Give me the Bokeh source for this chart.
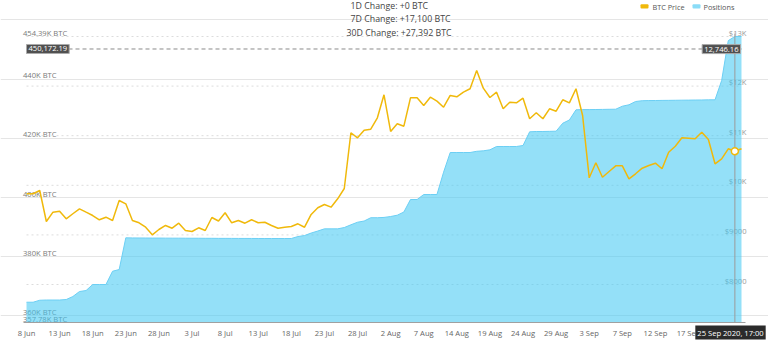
from bokeh.plotting import figure
from bokeh.models import (Range1d, FixedTicker, Label, LabelSet,
                          ColumnDataSource, BoxAnnotation)
from bokeh.core.properties import value
from bokeh.embed import file_html
from bokeh.resources import INLINE

# ---------------- data ----------------
tick_labels = ["8 Jun", "13 Jun", "18 Jun", "23 Jun", "28 Jun", "3 Jul", "8 Jul",
               "13 Jul", "18 Jul", "23 Jul", "28 Jul", "2 Aug", "7 Aug", "14 Aug",
               "19 Aug", "24 Aug", "29 Aug", "3 Sep", "7 Sep", "12 Sep", "17 Sep"]

positions = [
    364630, 364630, 365300, 365370, 365370, 365370, 365540, 366550, 368240, 368580,
    370610, 370610, 370610, 375100, 375670, 386390, 386350, 386330, 386320, 386300,
    386300, 386280, 386270, 386270, 386250, 386240, 386240, 386220, 386220, 386200,
    386200, 386190, 386180, 386180, 386170, 386160, 386160, 386150, 386150, 386150,
    386150, 386820, 387160, 388000, 388680, 389420, 389420, 389420, 389860, 390780,
    391650, 392060, 393170, 393170, 393280, 393580, 394020, 395100, 399320, 399320,
    401010, 401010, 401010, 408550, 415200, 415200, 415200, 415200, 415610, 415780,
    416110, 417230, 417230, 417230, 417230, 417570, 422190, 422300, 422300, 422350,
    422400, 425100, 426180, 429630, 429700, 429700, 429730, 429760, 429800, 429830,
    430840, 431320, 432430, 432700, 432750, 432770, 432800, 432820, 432850, 432880,
    432900, 432930, 432950, 433000, 433000, 439500, 453000, 454390, 454390]

btc_price = [
    9829, 9829, 9895, 9270, 9458, 9478, 9325, 9426, 9526, 9458,
    9391, 9305, 9357, 9291, 9694, 9627, 9291, 9244, 9155, 9002,
    9109, 9190, 9135, 9236, 9089, 9069, 9143, 9089, 9351, 9280,
    9446, 9244, 9291, 9236, 9305, 9244, 9256, 9190, 9135, 9155,
    9170, 9224, 9155, 9412, 9547, 9613, 9559, 9728, 9936, 11059,
    10958, 11111, 11131, 11361, 11825, 11085, 11240, 11192, 11764, 11764,
    11609, 11776, 11696, 11575, 11811, 11784, 11877, 11946, 12315, 11958,
    11770, 11877, 11542, 11675, 11663, 11756, 11341, 11462, 11341, 11542,
    11494, 11724, 11663, 11946, 11407, 10151, 10454, 10163, 10278, 10393,
    10393, 10131, 10232, 10345, 10399, 10446, 10333, 10667, 10788, 10958,
    10950, 10938, 11071, 10924, 10434, 10534, 10736, 10688, 10736]

pos_min, pos_max = 357780, 454390
price_min, price_max = 7234, 13000
left_ticks = [357780, 360000, 380000, 400000, 420000, 440000, 454390]
left_tick_labels = ["357.78K BTC", "360K BTC", "380K BTC", "400K BTC",
                    "420K BTC", "440K BTC", "454.39K BTC"]
right_ticks = [8000, 9000, 10000, 11000, 12000, 13000]
right_tick_labels = ["$8000", "$9000", "$10K", "$11K", "$12K", "$13K"]

change_texts = ["1D Change: +0 BTC", "7D Change: +17,100 BTC", "30D Change: +27,392 BTC"]
legend_names = ["BTC Price", "Positions"]
hover_index = 107
hover_date = "25 Sep 2020, 17:00"
pointer_pos = 450172.19
pointer_price = 12746.16
pointer_pos_text = "450,172.19"
pointer_price_text = "12,746.16"

# ---------------- layout ----------------
FONT = "Open Sans"
YELLOW = "#F0B90B"
BLUE = "#40C8F2"
n = len(positions)
idx = list(range(n))
x_max = n - 1

W, H = 768, 352
PL, PR, PT, PB = 26, 741, 36, 322          # plot area inside the canvas (px)
kx = x_max / (PR - PL)                      # index per px
ky = (pos_max - pos_min) / (PB - PT)        # BTC per px
kp = (price_max - price_min) / (PB - PT)    # $ per px


def xd(px):
    return (px - PL) * kx


def yd(py):
    return pos_max - (py - PT) * ky


p = figure(width=W, height=H, output_backend="svg", toolbar_location=None,
           x_range=Range1d(xd(0), xd(W)), y_range=Range1d(yd(H), yd(0)),
           y_axis_location=None, x_axis_location="below",
           min_border=0)
p.outline_line_color = None
p.background_fill_color = "white"
p.border_fill_color = "white"
p.extra_y_ranges = {"price": Range1d(price_min - (H - PB) * kp, price_max + PT * kp)}
p.xgrid.visible = False

# x axis at the bottom of the plot area
ax = p.xaxis[0]
ax.fixed_location = pos_min
ax.bounds = (xd(23), xd(745))
tick_idx = list(range(0, 5 * len(tick_labels), 5))
ax.ticker = FixedTicker(ticks=tick_idx)
ax.major_label_overrides = {t: l for t, l in zip(tick_idx, tick_labels)}
ax.major_tick_in = 0
ax.major_tick_out = 0
ax.minor_tick_in = 0
ax.minor_tick_out = 0
ax.axis_line_color = "#a0a0a0"
ax.major_label_text_color = "#666666"
ax.major_label_text_font = FONT
ax.major_label_text_font_size = "7.6px"
ax.major_label_standoff = 5

# horizontal grid lines on the price axis
p.segment(x0=0, x1=x_max, y0=right_ticks, y1=right_ticks, y_range_name="price",
          line_color="#dcdcdc", line_dash="2 3", line_width=1)

# axis labels (under the translucent area)
lsrc = ColumnDataSource(dict(x=[0] * len(left_ticks), y=left_ticks, t=left_tick_labels))
p.add_layout(LabelSet(x="x", y="y", text="t", source=lsrc, x_offset=-3.5, y_offset=4,
                      text_font=value(FONT), text_font_size="7.6px", text_color="#7a7a7a",
                      text_align="left", text_baseline="middle", level="underlay"))
rsrc = ColumnDataSource(dict(x=[x_max] * len(right_ticks), y=right_ticks, t=right_tick_labels))
p.add_layout(LabelSet(x="x", y="y", text="t", source=rsrc, y_range_name="price",
                      x_offset=5, y_offset=4,
                      text_font=value(FONT), text_font_size="7.6px", text_color="#9a9a9a",
                      text_align="right", text_baseline="middle", level="underlay"))

# series
p.varea(x=idx, y1=pos_min, y2=positions, fill_color=BLUE, fill_alpha=0.56)
p.line(idx, positions, line_color="#6ccff4", line_width=1)
p.line(idx, btc_price, y_range_name="price", line_color=YELLOW, line_width=1.5)

# axis pointer
p.segment(x0=[hover_index], x1=[hover_index], y0=[pos_min], y1=[yd(33)],
          line_color="#9a9a9a", line_width=1)
p.segment(x0=[0], x1=[x_max], y0=[pointer_pos], y1=[pointer_pos],
          line_color="#8a8a8a", line_width=1, line_dash="4 3")
p.scatter([hover_index], [btc_price[hover_index]], y_range_name="price", size=7,
          fill_color="white", line_color=YELLOW, line_width=1.5)

p.add_layout(Label(x=xd(26), y=pointer_pos, text=pointer_pos_text,
                   text_font=FONT, text_font_size="7.6px", text_color="white",
                   text_align="left", text_baseline="middle",
                   background_fill_color="#505050", border_line_color="#aaaaaa",
                   padding=2))
p.add_layout(Label(x=xd(740), y=pointer_price, y_range_name="price",
                   text=pointer_price_text,
                   text_font=FONT, text_font_size="7.6px", text_color="white",
                   text_align="right", text_baseline="middle",
                   background_fill_color="#505050", border_line_color="#aaaaaa",
                   padding=2))
p.add_layout(Label(x=xd(730), y=yd(332), text=hover_date,
                   text_font=FONT, text_font_size="7.6px", text_color="white",
                   text_align="center", text_baseline="middle",
                   background_fill_color="#2b2b2b", padding=2))

# header texts
for txt, px, py in zip(change_texts, [350, 350, 346], [5, 18, 32]):
    p.add_layout(Label(x=xd(px), y=yd(py), text=txt, text_font=FONT,
                       text_font_size="8.8px", text_color="#444444",
                       text_align="left", text_baseline="middle"))

# legend
for name, color, bx, tx in zip(legend_names, [YELLOW, "#8adcf7"], [640, 692], [652, 703]):
    p.add_layout(BoxAnnotation(left=xd(bx), right=xd(bx + 8), top=yd(3.8), bottom=yd(8),
                               fill_color=color, fill_alpha=1, line_color=None,
                               border_radius=1))
    p.add_layout(Label(x=xd(tx), y=yd(6), text=name, text_font=FONT,
                       text_font_size="7.3px", text_color="#555555",
                       text_align="left", text_baseline="middle"))

open("out.html", "w").write(file_html(p, INLINE))
